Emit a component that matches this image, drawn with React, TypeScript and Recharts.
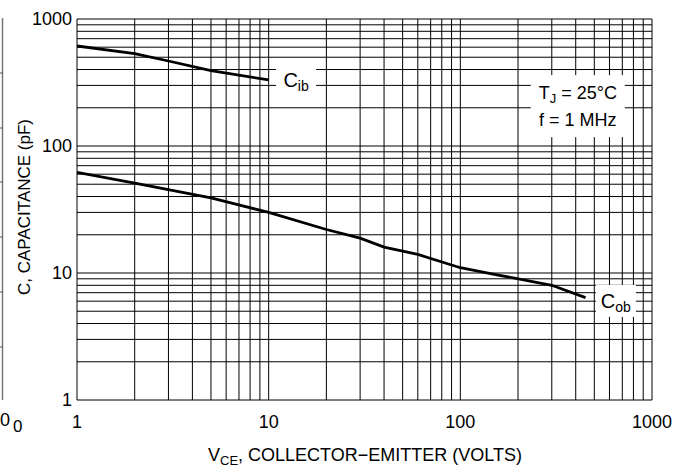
import { LineChart, Line, XAxis, YAxis, CartesianGrid, ReferenceDot } from 'recharts';

// capacitance vs. collector-emitter voltage
const cibVolts = [1, 2, 3, 5, 10];
const cibPf = [613, 533, 467, 392, 331];
const cobVolts = [1, 2, 5, 10, 20, 30, 40, 60, 100, 160, 300, 450];
const cobPf = [62, 51, 39, 30, 22, 18.8, 16, 14, 11, 9.6, 8, 6.4];

const decades = [1, 10, 100, 1000];
const minorSteps = [1, 2, 3, 4, 5, 6, 7, 8, 9];
const gridTicks = [
  ...decades.slice(0, 3).flatMap((d) => minorSteps.map((m) => m * d)),
  1000,
];

// stray tick marks of the neighbouring plot, cut at the left edge
const strayTicks = [73, 128, 182, 237, 292, 347];

const cibData = cibVolts.map((v, i) => ({ v, c: cibPf[i] }));
const cobData = cobVolts.map((v, i) => ({ v, c: cobPf[i] }));

const FONT = '"Liberation Sans", Arial, Helvetica, sans-serif';

const XTick = ({ x, y, payload }: any) =>
  decades.includes(payload.value) ? (
    <text x={x} y={y + 28} textAnchor="middle" fontSize={18} fontFamily={FONT} fill="#000">
      {payload.value}
    </text>
  ) : (
    <g />
  );

const YTick = ({ x, y, payload }: any) =>
  decades.includes(payload.value) ? (
    <text x={x} y={y + 6} textAnchor="end" fontSize={18} fontFamily={FONT} fill="#000">
      {payload.value}
    </text>
  ) : (
    <g />
  );

const Tag = ({ cx, cy, w, h, main, sub }: any) => (
  <g>
    <rect x={cx - w / 2} y={cy - h / 2} width={w} height={h} fill="#fff" />
    <text x={cx} y={cy + 7} textAnchor="middle" fontSize={20} fontFamily={FONT} fill="#000">
      {main}
      <tspan fontSize={14} dy={4}>{sub}</tspan>
    </text>
  </g>
);

const Conditions = ({ cx, cy }: any) => (
  <g>
    <rect x={cx - 47} y={cy - 31} width={94} height={62} fill="#fff" />
    <text x={cx} y={cy - 7} textAnchor="middle" fontSize={18} fontFamily={FONT} fill="#000">
      T<tspan fontSize={13} dy={4}>J</tspan>
      <tspan dy={-4}> = 25°C</tspan>
    </text>
    <text x={cx} y={cy + 20} textAnchor="middle" fontSize={18} fontFamily={FONT} fill="#000">
      f = 1 MHz
    </text>
  </g>
);

export default function App() {
  return (
    <div style={{ position: 'absolute', left: 0, top: 0, width: 688, height: 468, background: '#fff' }}>
      <LineChart width={688} height={468} margin={{ top: 19, right: 36, bottom: 0, left: 0 }}>
        <CartesianGrid stroke="#000" strokeWidth={1} />
        <XAxis
          type="number"
          dataKey="v"
          scale="log"
          domain={[1, 1000]}
          allowDataOverflow
          ticks={gridTicks}
          interval={0}
          tick={<XTick />}
          tickSize={0}
          tickMargin={0}
          axisLine={false}
          height={68}
        />
        <YAxis
          type="number"
          dataKey="c"
          scale="log"
          domain={[1, 1000]}
          allowDataOverflow
          ticks={gridTicks}
          interval={0}
          tick={<YTick />}
          tickSize={0}
          tickMargin={5}
          axisLine={false}
          width={77}
        />
        <Line data={cibData} dataKey="c" type="linear" stroke="#000" strokeWidth={2.8} dot={false} isAnimationActive={false} />
        <Line data={cobData} dataKey="c" type="linear" stroke="#000" strokeWidth={2.8} dot={false} isAnimationActive={false} />
        <ReferenceDot x={13.9} y={331} shape={(p: any) => <Tag cx={p.cx} cy={p.cy} w={40} h={36} main="C" sub="ib" />} />
        <ReferenceDot x={410} y={206} shape={(p: any) => <Conditions cx={p.cx} cy={p.cy} />} />
        <ReferenceDot x={648} y={6.03} shape={(p: any) => <Tag cx={p.cx} cy={p.cy} w={40} h={32} main="C" sub="ob" />} />
      </LineChart>
      <svg width={688} height={468} style={{ position: 'absolute', left: 0, top: 0, pointerEvents: 'none' }}>
        <line x1={2.5} y1={18} x2={2.5} y2={400} stroke="#777" strokeWidth={1.5} />
        {strayTicks.map((t) => (
          <line key={t} x1={0} y1={t} x2={3} y2={t} stroke="#555" strokeWidth={1} />
        ))}
        <text x={0} y={426} fontSize={18} fontFamily={FONT} fill="#000">0</text>
        <text x={13} y={432} fontSize={17} fontFamily={FONT} fill="#000">0</text>
        <text transform="translate(30,207) rotate(-90)" textAnchor="middle" fontSize={17} fontFamily={FONT} fill="#000">
          C, CAPACITANCE (pF)
        </text>
        <text x={365} y={461} textAnchor="middle" fontSize={18} fontFamily={FONT} fill="#000">
          V<tspan fontSize={13} dy={4}>CE</tspan>
          <tspan dy={-4}>, COLLECTOR−EMITTER (VOLTS)</tspan>
        </text>
      </svg>
    </div>
  );
}
